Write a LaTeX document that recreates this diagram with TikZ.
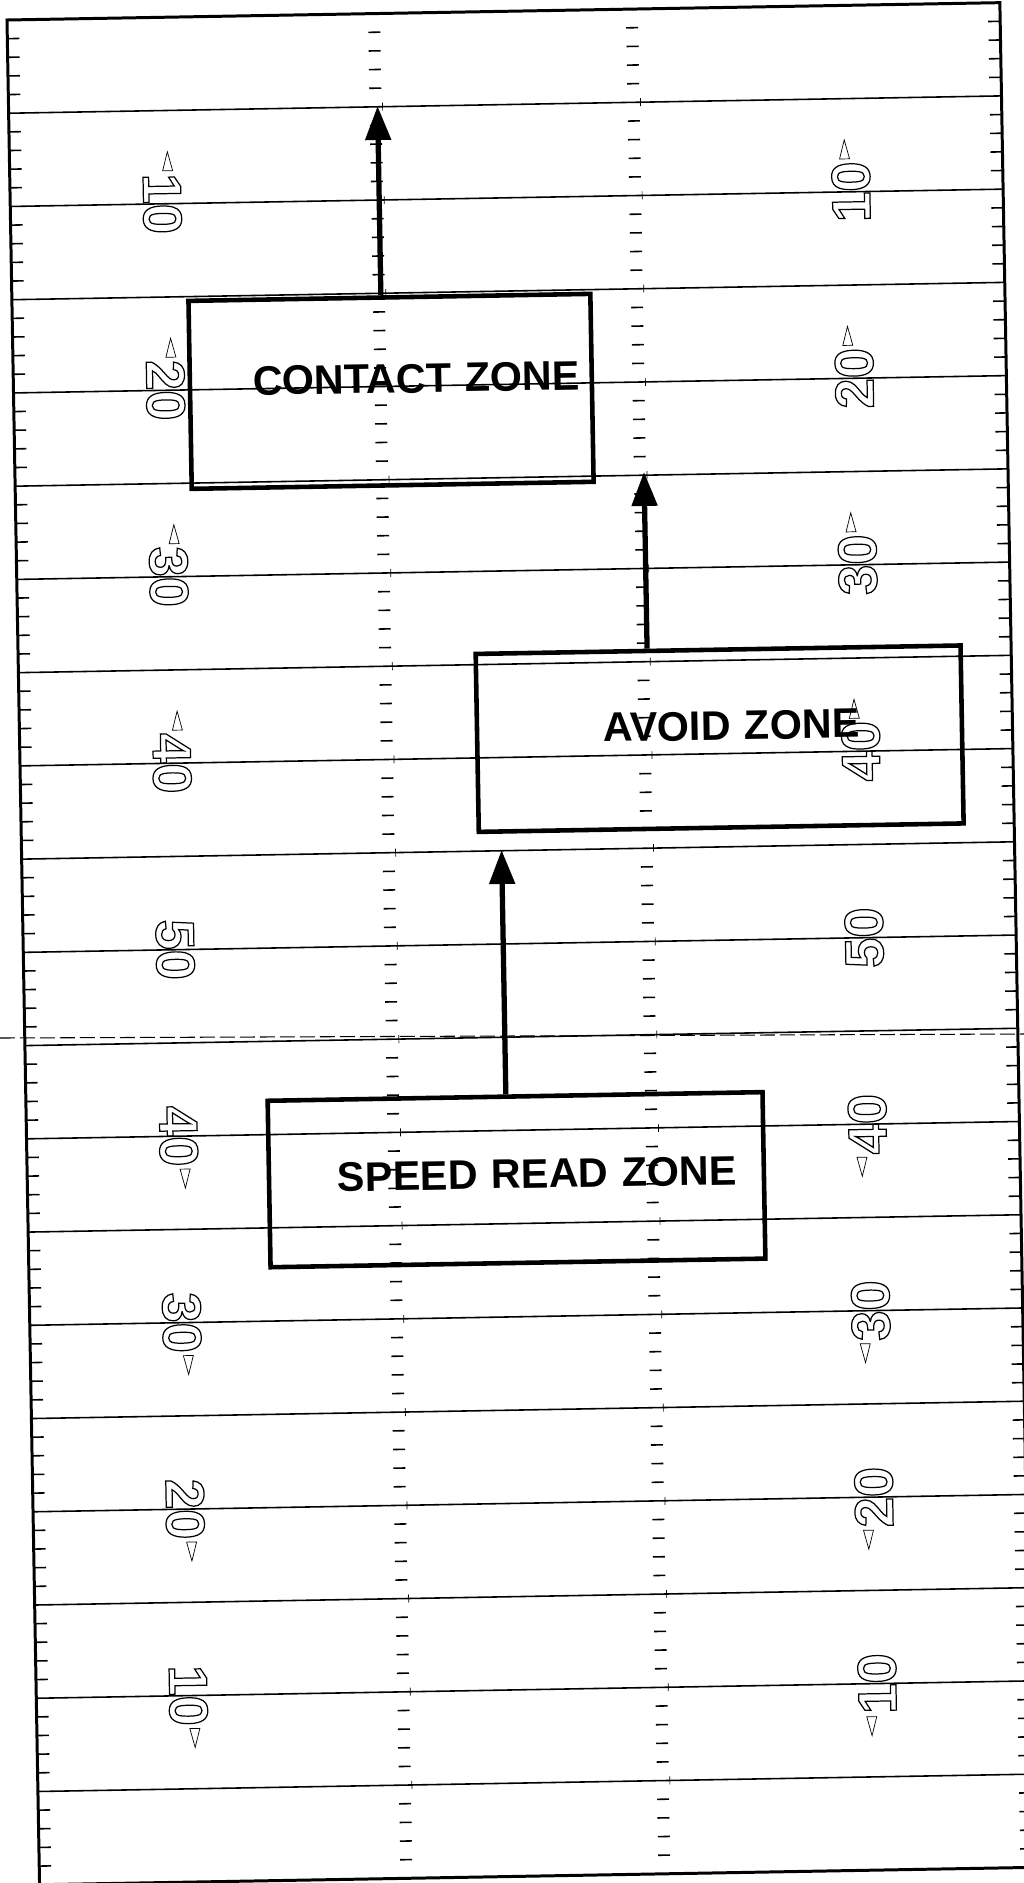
\documentclass[tikz,border=0pt]{standalone}
\usepackage{fontspec}
\setsansfont{Liberation Sans}
\usetikzlibrary{arrows.meta}
% hollow (stroked only) yard numbers
\newcommand{\hollow}[1]{\special{pdf:literal direct 1 Tr 0.7 w}#1\special{pdf:literal direct 0 Tr}}

\begin{document}
\begin{tikzpicture}[x=0.02cm, y=-0.02cm,
  yardline/.style={line width=0.9pt},
  fieldedge/.style={line width=1.7pt},
  tick/.style={line width=0.9pt},
  marker/.style={line width=0.4pt},
  yardno/.style={inner sep=0pt, font=\fontsize{31}{31}\selectfont\sffamily\bfseries},
  zone/.style={draw, line width=2.6pt, inner ysep=0pt, align=right, text height=0.59cm, font=\fontsize{23.5}{26}\selectfont\sffamily\bfseries},
  go/.style={line width=3pt, -{Triangle[length=0.68cm,width=0.5cm]}},
  scrimmage/.style={line width=0.6pt, dash pattern=on 0.3cm off 0.1cm}]

\useasboundingbox (0,0) rectangle (1024,1883);
\clip (0,0) rectangle (1024,1883);

% ---- line of scrimmage, runs past both sidelines ----
\draw[scrimmage] (0,1038) -- (1024,1034);

\begin{scope}[shift={(7,20)}, rotate=1, transform shape]

% ---- field: goal line to goal line, a line every 5 yards ----
\foreach \k in {1,...,19}
  \draw[yardline] (0,\k*93.25) -- (993,\k*93.25);
\draw[fieldedge] (0,0) rectangle (993,1865);

% ---- one-yard ticks: sidelines and hash marks ----
\foreach \k in {0,...,19}
  \foreach \j in {1,...,4} {
    \pgfmathsetmacro{\yy}{\k*93.25+\j*18.65}
    \draw[tick] (0,\yy) -- (12,\yy);
    \draw[tick] (981,\yy) -- (993,\yy);
    \draw[tick] (361,\yy) -- (373,\yy);
    \draw[tick] (619,\yy) -- (631,\yy);
  }
\foreach \k in {1,...,19} {
  \draw[marker] (374,\k*93.25-4) -- (374,\k*93.25+4);
  \draw[marker] (632,\k*93.25-4) -- (632,\k*93.25+4);
}

% ---- yard numbers and direction arrows ----
\foreach \k/\num in {2/10,4/20,6/30,8/40,10/50,12/40,14/30,16/20,18/10} {
  \node[yardno, rotate=-90] (numl\k) at (152,\k*93.25) {\hollow{\num}};
  \node[yardno, rotate=90] (numr\k) at (841,\k*93.25) {\hollow{\num}};
}
\foreach \k in {2,4,6,8} {
  \draw[marker] (153,\k*93.25-33) -- (158,\k*93.25-52) -- (163,\k*93.25-33) -- cycle;
  \draw[marker] (830,\k*93.25-33) -- (835,\k*93.25-52) -- (840,\k*93.25-33) -- cycle;
}
\foreach \k in {12,14,16,18} {
  \draw[marker] (153,\k*93.25+33) -- (158,\k*93.25+52) -- (163,\k*93.25+33) -- cycle;
  \draw[marker] (830,\k*93.25+33) -- (835,\k*93.25+52) -- (840,\k*93.25+33) -- cycle;
}

% ---- zones ----
\node[zone, minimum width=8.04cm, minimum height=3.76cm, inner xsep=0.236cm, text width=7.568cm, text depth=0.52cm] (contact) at (377.5,378) {CONTACT ZONE};
\node[zone, minimum width=9.7cm, minimum height=3.56cm, inner xsep=2.05cm, text width=5.6cm, text depth=0.54cm] (avoid) at (700,731) {AVOID ZONE};
\node[zone, minimum width=9.9cm, minimum height=3.33cm, inner xsep=0.54cm, text width=8.82cm, text depth=0.24cm] (speed) at (489.2,1168.4) {SPEED READ ZONE};

% ---- advance: speed read -> avoid -> contact -> out ----
\coordinate (speedgo) at (480,838.5);
\coordinate (avoidgo) at (629,463);
\coordinate (contactgo) at (369,92.5);
\draw[go] (speed.north -| speedgo) -- (speedgo);
\draw[go] (avoid.north -| avoidgo) -- (avoidgo);
\draw[go] (contact.north -| contactgo) -- (contactgo);

\end{scope}
\end{tikzpicture}
\end{document}
